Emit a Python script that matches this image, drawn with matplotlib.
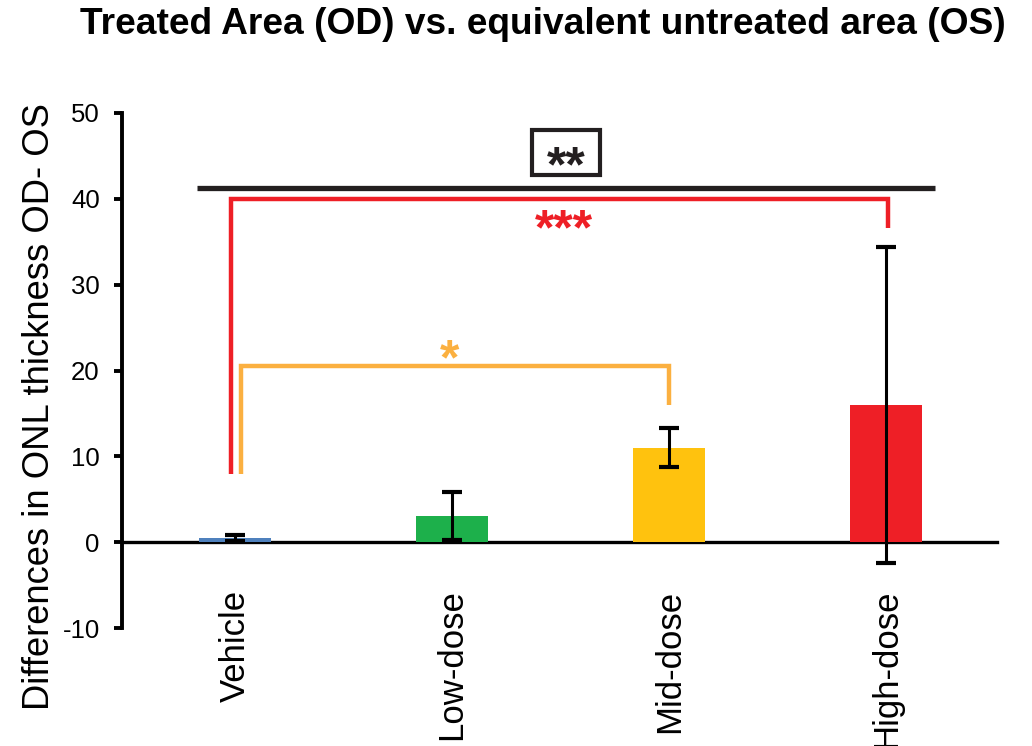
import matplotlib
matplotlib.use("Agg")
import matplotlib.pyplot as plt
from matplotlib.patches import Rectangle

plt.rcParams['font.family'] = ['Liberation Sans', 'DejaVu Sans']

# Group data: mean difference in ONL thickness (OD - OS) and error
groups = ["Vehicle", "Low-dose", "Mid-dose", "High-dose"]
means = [0.5, 3.05, 11.0, 16.0]
errors = [0.35, 2.85, 2.3, 18.4]
bar_colors = ["#4f81bd", "#1db04b", "#ffc20e", "#ee1f26"]

y_ticks = [-10, 0, 10, 20, 30, 40, 50]

# Significance brackets: (left group, right group, top, left foot, right foot, label, colour)
brackets = [
    (-0.02, 3.01, 40.0, 7.9, 36.6, "***", "#ee1f26"),
    (0.03, 2.0, 20.5, 7.9, 16.0, "*", "#fbb040"),
]
overall_line = (-0.175, 3.226, 41.3)

fig = plt.figure(figsize=(10.32, 7.46), dpi=100)
ax = fig.add_axes([122 / 1032, 1 - 628 / 746, 875 / 1032, 515 / 746])

x = list(range(len(groups)))
ax.bar(x, means, width=0.33, color=bar_colors, edgecolor="none", zorder=2)
ax.errorbar(x, means, yerr=errors, fmt="none", ecolor="black",
            elinewidth=2.2, capsize=7, capthick=3, zorder=3)

ax.set_xlim(-0.52, 3.51)
ax.set_ylim(-10, 50)

for side in ("top", "right"):
    ax.spines[side].set_visible(False)
ax.spines["bottom"].set_position(("data", 0))
ax.spines["bottom"].set_linewidth(2.4)
ax.spines["left"].set_linewidth(2.8)
ax.spines["bottom"].set_zorder(1.5)

ax.set_yticks(y_ticks)
ax.set_yticklabels([str(t) for t in y_ticks], fontsize=18.5)
ax.tick_params(axis="y", length=6, width=2.8, pad=10, direction="out")

ax.set_xticks(x)
ax.set_xticklabels(groups, rotation=90, fontsize=25)
ax.tick_params(axis="x", length=0, pad=34)

# Overall comparison line with boxed label
x0, x1, yl = overall_line
ax.plot([x0, x1], [yl, yl], color="#231f20", lw=3.8, solid_capstyle="butt", zorder=3)
ax.add_patch(Rectangle((1.37, 42.8), 0.31, 5.2, fill=False, edgecolor="#231f20",
                       lw=3.0, zorder=3, clip_on=False))
ax.text(1.525, 42.0, "**", ha="center", va="baseline", fontsize=36,
        fontweight="bold", color="#231f20")

for xl, xr, top, fl, fr, lab, col in brackets:
    ax.plot([xl, xl, xr, xr], [fl, top, top, fr], color=col, lw=3.2,
            solid_joinstyle="miter", solid_capstyle="butt", zorder=3)
    if lab == "***":
        ax.text((xl + xr) / 2 + 0.02, 34.7, lab, ha="center", va="baseline",
                fontsize=36, fontweight="bold", color=col)
    else:
        ax.text(0.99, 19.5, lab, ha="center", va="baseline",
                fontsize=36, fontweight="bold", color=col)

fig.text(40 / 1032, 1 - 407 / 746, "Differences in ONL thickness OD- OS",
         rotation=90, ha="center", va="center", fontsize=26.2)
fig.text(543 / 1032, 1 - 25 / 746,
         "Treated Area (OD) vs. equivalent untreated area (OS)",
         ha="center", va="center", fontsize=26.7, fontweight="bold")

fig.savefig("out.png", dpi=100, facecolor="white")
